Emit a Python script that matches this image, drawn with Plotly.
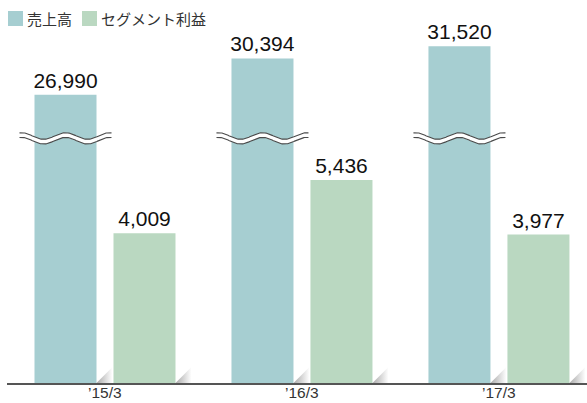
import numpy as np
import plotly.graph_objects as go

# ---------------- data ----------------
categories = ["’15/3", "’16/3", "’17/3"]
sales = [26990, 30394, 31520]          # 売上高
profit = [4009, 5436, 3977]            # セグメント利益
series_names = ["売上高", "セグメント利益"]

SALES_COLOR = "#a6ced1"
PROFIT_COLOR = "#bad8c1"

# ---------------- layout constants ----------------
W, H = 587, 403
M_L, M_R, M_T, M_B = 7, 0, 0, 20
PW = W - M_L - M_R
PH = H - M_T - M_B

X_RANGE = [-0.4975, 2.447]
PX_X = PW / (X_RANGE[1] - X_RANGE[0])
Y_PROFIT_MAX = 10257
Y_SALES_MAX = 35861
PX_Y1 = PH / Y_PROFIT_MAX
PX_Y2 = PH / Y_SALES_MAX

BARGAP = 0.198
BARGROUPGAP = 0.215
slot = (1 - BARGAP) / 2
bar_w = slot * (1 - BARGROUPGAP)

x = list(range(len(categories)))

fig = go.Figure()

# shadows at bottom-right of bars (decoration)
SH = 16  # px
for i in x:
    for off, ax, pxy in ((-slot / 2, "y2", PX_Y2), (slot / 2, "y", PX_Y1)):
        R = i + off + bar_w / 2
        fig.add_trace(go.Scatter(
            x=[R, R + SH / PX_X, R + SH / PX_X, R],
            y=[0, SH / pxy, 0, 0],
            mode="lines", line=dict(width=0), fill="toself",
            fillgradient=dict(type="horizontal",
                              colorscale=[[0, "rgba(170,170,170,1)"], [1, "rgba(255,255,255,1)"]]),
            yaxis=ax, hoverinfo="skip", showlegend=False))

fig.add_trace(go.Bar(
    x=x, y=sales, yaxis="y2", offsetgroup="s", name=series_names[0],
    marker=dict(color=SALES_COLOR, line=dict(width=0)),
    text=[f"{v:,}" for v in sales], textposition="outside", constraintext="none",
    textfont=dict(size=21, color="#111", family="Liberation Sans, Arial"),
    cliponaxis=False, showlegend=False))

fig.add_trace(go.Bar(
    x=x, y=profit, yaxis="y", offsetgroup="p", name=series_names[1],
    marker=dict(color=PROFIT_COLOR, line=dict(width=0)),
    text=[f"{v:,}" for v in profit], textposition="outside", constraintext="none",
    textfont=dict(size=21, color="#111", family="Liberation Sans, Arial"),
    cliponaxis=False, showlegend=False))

# axis-break symbols on the sales bars (decoration)
BREAK_Y = 136.0   # px from top, upper wave mean
GAP = 4.7
AMP = 3.3
PERIOD = 44.0
dx = np.linspace(-46, 46, 120)
for i in x:
    xc = i - slot / 2
    xs = xc + dx / PX_X
    top_px = BREAK_Y - AMP * np.cos(2 * np.pi * dx / PERIOD)
    bot_px = top_px + GAP
    top_v = (PH - top_px) / PX_Y2
    bot_v = (PH - bot_px) / PX_Y2
    fig.add_trace(go.Scatter(
        x=np.concatenate([xs, xs[::-1]]), y=np.concatenate([top_v, bot_v[::-1]]),
        mode="lines", line=dict(width=0), fill="toself", fillcolor="white",
        yaxis="y2", hoverinfo="skip", showlegend=False))
    for yy in (top_v, bot_v):
        fig.add_trace(go.Scatter(
            x=xs, y=yy, mode="lines", line=dict(color="#4a4a4a", width=1.1),
            yaxis="y2", hoverinfo="skip", showlegend=False))

# manual legend
def px2x(p):
    return (p - M_L) / PW

def px2y(p):
    return 1 - (p - M_T) / PH

legend_items = [(series_names[0], SALES_COLOR, 8, 23, 25),
                (series_names[1], PROFIT_COLOR, 82, 97, 99)]
for name, col, sx0, sx1, tx in legend_items:
    fig.add_shape(type="rect", xref="paper", yref="paper",
                  x0=px2x(sx0), x1=px2x(sx1), y0=px2y(26), y1=px2y(11),
                  fillcolor=col, line=dict(width=0))
    fig.add_annotation(text=name, xref="paper", yref="paper",
                       x=px2x(tx), y=px2y(18.5), xanchor="left", yanchor="middle",
                       showarrow=False,
                       font=dict(size=15, color="#333", family="Noto Sans CJK JP"))

# category labels under the axis
for xi, lab in zip(x, categories):
    fig.add_annotation(text=lab, xref="x", yref="paper", x=xi, y=px2y(402.5),
                       xanchor="center", yanchor="bottom", showarrow=False,
                       font=dict(size=15.5, color="#333", family="Liberation Sans, Arial"))

fig.update_layout(
    width=W, height=H,
    margin=dict(l=M_L, r=M_R, t=M_T, b=M_B),
    paper_bgcolor="white", plot_bgcolor="white",
    barmode="group", bargap=BARGAP, bargroupgap=BARGROUPGAP,
    showlegend=False,
    xaxis=dict(range=X_RANGE, tickvals=x, showticklabels=False,
               showline=True, linecolor="#555", linewidth=2,
               showgrid=False, zeroline=False, ticks="", automargin=False),
    yaxis=dict(range=[0, Y_PROFIT_MAX], visible=False, showgrid=False, zeroline=False),
    yaxis2=dict(range=[0, Y_SALES_MAX], overlaying="y", visible=False,
                showgrid=False, zeroline=False),
)

fig.write_html("out.html", config={"displayModeBar": False},
               post_script="document.body.style.margin='0';document.body.style.padding='0';")
